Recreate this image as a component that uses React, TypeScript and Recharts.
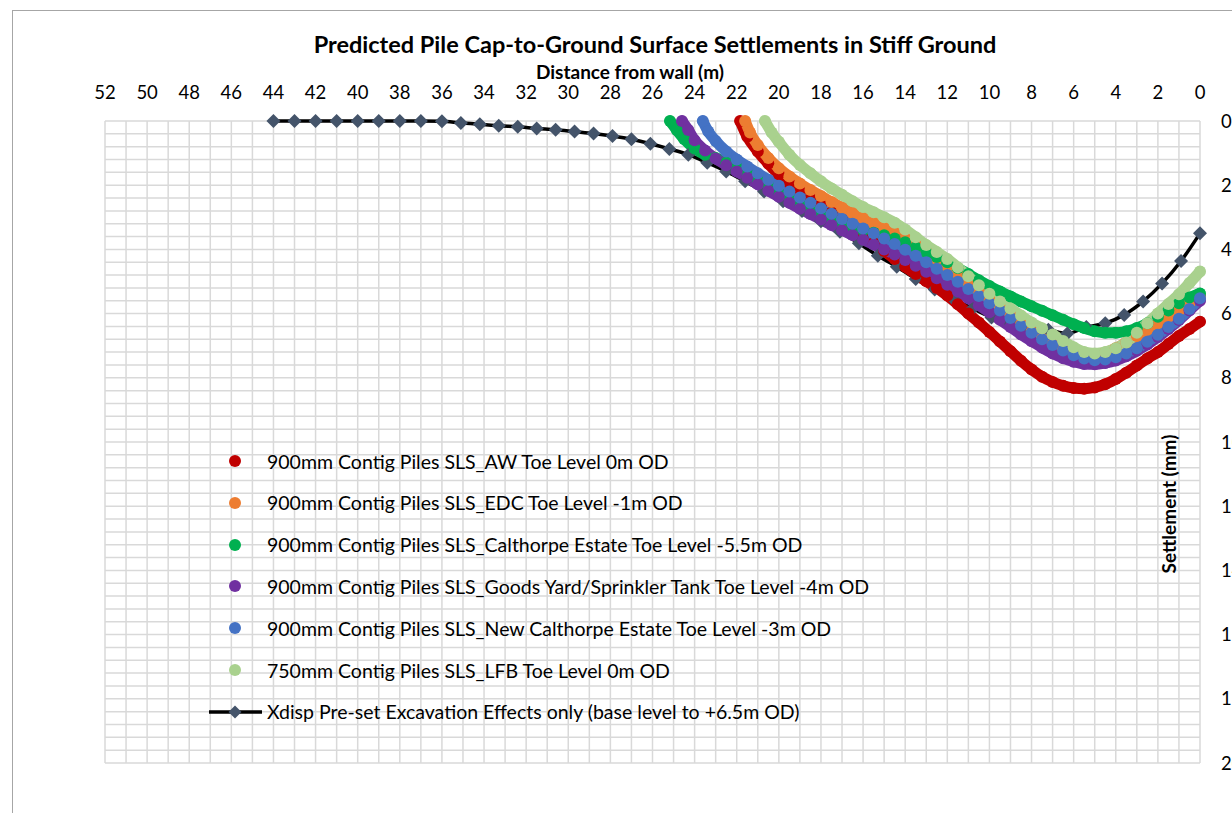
import { ComposedChart, Line, XAxis, YAxis, CartesianGrid } from "recharts";

const W = 1232;
const H = 813;
const FONT = "Lato, 'Open Sans', sans-serif";

// tick labels shown on the axes
const distanceLabels = [0, 2, 4, 6, 8, 10, 12, 14, 16, 18, 20, 22, 24, 26, 28, 30, 32, 34, 36, 38, 40, 42, 44, 46, 48, 50, 52];
const settlementLabels = [0, 2, 4, 6, 8, 10, 12, 14, 16, 18, 20];

// minor grid: every 1 m across, every 0.4 mm down
const gridX = Array.from({ length: 53 }, (_, i) => i);
const gridY = Array.from({ length: 51 }, (_, i) => Math.round(i * 4) / 10);

// [distance from wall (m), settlement (mm)]
const xdispPoints: [number, number][] = [
  [44, 0], [43, 0], [42, 0], [41, 0], [40, 0], [39, 0], [38, 0], [37, 0], [36, 0.01],
  [35.1, 0.06], [34.2, 0.1], [33.3, 0.15], [32.4, 0.18], [31.5, 0.23], [30.6, 0.27],
  [29.7, 0.33], [28.8, 0.39], [27.9, 0.47], [27, 0.57], [26.1, 0.71], [25.2, 0.87],
  [24.3, 1.05], [23.4, 1.3], [22.5, 1.57], [21.6, 1.88], [20.7, 2.2], [19.8, 2.5],
  [18.9, 2.8], [18, 3.12], [17.1, 3.45], [16.2, 3.81], [15.3, 4.2], [14.4, 4.54],
  [13.5, 4.92], [12.6, 5.25], [11.7, 5.55], [10.8, 5.84], [9.9, 6.12], [9, 6.3],
  [8.1, 6.43], [7.2, 6.5], [6.3, 6.62], [5.4, 6.42], [4.5, 6.3], [3.6, 6.04],
  [2.7, 5.62], [1.8, 5.06], [0.9, 4.36], [0, 3.5],
];

const awPoints: [number, number][] = [
  [21.84, 0], [21.5, 0.49], [21, 0.95], [20.5, 1.33], [20, 1.66], [19.5, 1.94], [19, 2.18],
  [18.5, 2.4], [18, 2.62], [17.5, 2.85], [17, 3.07], [16.5, 3.3], [16, 3.55], [15.5, 3.8],
  [15, 4.05], [14.5, 4.3], [14, 4.54], [13.5, 4.77], [13, 4.99], [12.5, 5.2], [12, 5.44],
  [11.5, 5.71], [11, 6.0], [10.5, 6.28], [10, 6.57], [9.5, 6.87], [9, 7.17], [8.5, 7.47],
  [8, 7.74], [7.5, 7.97], [7, 8.13], [6.5, 8.25], [6, 8.32], [5.5, 8.34], [5, 8.3],
  [4.5, 8.2], [4, 8.04], [3.5, 7.84], [3, 7.62], [2.5, 7.4], [2, 7.2], [1.5, 6.95],
  [1, 6.7], [0.5, 6.48], [0, 6.25],
];

const edcPoints: [number, number][] = [
  [21.6, 0], [21.37, 0.36], [21, 0.75], [20.5, 1.15], [20, 1.47], [19.5, 1.73], [19, 1.95],
  [18.5, 2.15], [18, 2.34], [17.5, 2.52], [17, 2.7], [16.5, 2.87], [16, 3.03], [15.5, 3.18],
  [15, 3.33], [14.5, 3.48], [14, 3.65], [13.5, 3.85], [13, 4.07], [12.5, 4.3], [12, 4.53],
  [11.5, 4.77], [11, 5.02], [10.5, 5.28], [10, 5.54], [9.5, 5.8], [9, 6.06], [8.5, 6.32],
  [8, 6.56], [7.5, 6.78], [7, 6.97], [6.5, 7.13], [6, 7.25], [5.5, 7.31], [5, 7.3],
  [4.5, 7.22], [4, 7.08], [3.5, 6.9], [3, 6.7], [2.5, 6.5], [2, 6.3], [1.5, 6.1],
  [1, 5.9], [0.5, 5.68], [0, 5.45],
];

const calthorpePoints: [number, number][] = [
  [25.17, 0], [24.85, 0.28], [24.5, 0.56], [24, 0.86], [23.5, 1.05], [23, 1.15], [22.5, 1.3],
  [22, 1.45], [21.5, 1.62], [21, 1.82], [20.5, 2.01], [20, 2.2], [19.5, 2.38], [19, 2.56],
  [18.5, 2.73], [18, 2.9], [17.5, 3.05], [17, 3.18], [16.5, 3.3], [16, 3.4], [15.5, 3.48],
  [15, 3.56], [14.5, 3.66], [14, 3.78], [13.5, 3.93], [13, 4.08], [12.5, 4.24], [12, 4.4],
  [11.5, 4.58], [11, 4.77], [10.5, 4.96], [10, 5.14], [9.5, 5.31], [9, 5.47], [8.5, 5.62],
  [8, 5.77], [7.5, 5.91], [7, 6.05], [6.5, 6.19], [6, 6.33], [5.5, 6.45], [5, 6.55],
  [4.5, 6.6], [4, 6.6], [3.5, 6.55], [3, 6.45], [2.5, 6.3], [2, 6.1], [1.5, 5.9],
  [1, 5.68], [0.5, 5.5], [0, 5.37],
];

const goodsYardPoints: [number, number][] = [
  [24.6, 0], [24.3, 0.28], [24, 0.6], [23.5, 0.92], [23, 1.17], [22.5, 1.38], [22, 1.57],
  [21.5, 1.77], [21, 1.97], [20.5, 2.17], [20, 2.36], [19.5, 2.55], [19, 2.73], [18.5, 2.9],
  [18, 3.07], [17.5, 3.24], [17, 3.4], [16.5, 3.55], [16, 3.7], [15.5, 3.85], [15, 4.0],
  [14.5, 4.16], [14, 4.33], [13.5, 4.51], [13, 4.7], [12.5, 4.9], [12, 5.1], [11.5, 5.31],
  [11, 5.52], [10.5, 5.74], [10, 5.96], [9.5, 6.19], [9, 6.42], [8.5, 6.65], [8, 6.86],
  [7.5, 7.06], [7, 7.24], [6.5, 7.39], [6, 7.5], [5.5, 7.57], [5, 7.58], [4.5, 7.54],
  [4, 7.46], [3.5, 7.33], [3, 7.16], [2.5, 6.96], [2, 6.73], [1.5, 6.48], [1, 6.2],
  [0.5, 5.9], [0, 5.6],
];

const newCalthorpePoints: [number, number][] = [
  [23.61, 0], [23.35, 0.33], [23, 0.62], [22.5, 0.95], [22, 1.2], [21.5, 1.42], [21, 1.63],
  [20.5, 1.83], [20, 2.02], [19.5, 2.2], [19, 2.38], [18.5, 2.55], [18, 2.72], [17.5, 2.89],
  [17, 3.05], [16.5, 3.2], [16, 3.35], [15.5, 3.5], [15, 3.66], [14.5, 3.83], [14, 4.01],
  [13.5, 4.2], [13, 4.4], [12.5, 4.6], [12, 4.8], [11.5, 5.01], [11, 5.23], [10.5, 5.45],
  [10, 5.68], [9.5, 5.9], [9, 6.14], [8.5, 6.38], [8, 6.6], [7.5, 6.8], [7, 6.98],
  [6.5, 7.15], [6, 7.3], [5.5, 7.4], [5, 7.45], [4.5, 7.43], [4, 7.36], [3.5, 7.24],
  [3, 7.08], [2.5, 6.88], [2, 6.66], [1.5, 6.42], [1, 6.16], [0.5, 5.86], [0, 5.52],
];

const lfbPoints: [number, number][] = [
  [20.66, 0], [20.34, 0.36], [20, 0.65], [19.5, 1.05], [19, 1.37], [18.5, 1.63], [18, 1.88],
  [17.5, 2.1], [17, 2.3], [16.5, 2.5], [16, 2.68], [15.5, 2.84], [15, 3.0], [14.5, 3.17],
  [14, 3.38], [13.5, 3.62], [13, 3.86], [12.5, 4.08], [12, 4.3], [11.5, 4.56], [11, 4.84],
  [10.5, 5.12], [10, 5.38], [9.5, 5.62], [9, 5.84], [8.5, 6.06], [8, 6.28], [7.5, 6.46],
  [7, 6.65], [6.5, 6.85], [6, 7.05], [5.5, 7.2], [5, 7.24], [4.5, 7.2], [4, 7.08],
  [3.5, 6.9], [3, 6.6], [2.5, 6.3], [2, 6.0], [1.5, 5.7], [1, 5.4], [0.5, 5.05], [0, 4.69],
];

const pileSeries = [
  { name: "900mm Contig Piles SLS_AW Toe Level 0m OD", color: "#C00000", points: awPoints },
  { name: "900mm Contig Piles SLS_EDC Toe Level -1m OD", color: "#ED7D31", points: edcPoints },
  { name: "900mm Contig Piles SLS_Calthorpe Estate Toe Level -5.5m OD", color: "#00B050", points: calthorpePoints },
  { name: "900mm Contig Piles SLS_Goods Yard/Sprinkler Tank Toe Level -4m OD", color: "#7030A0", points: goodsYardPoints },
  { name: "900mm Contig Piles SLS_New Calthorpe Estate Toe Level -3m OD", color: "#4472C4", points: newCalthorpePoints },
  { name: "750mm Contig Piles SLS_LFB Toe Level 0m OD", color: "#A9D18E", points: lfbPoints },
];
const xdispName = "Xdisp Pre-set Excavation Effects only (base level to +6.5m OD)";
const DIAMOND = "#44546A";

const toRows = (pts: [number, number][]) => pts.map(([x, y]) => ({ x, y }));

const Diamond = (props: any) => {
  const { cx, cy, index } = props;
  if (cx == null || cy == null) return <g key={index} />;
  const s = 7;
  return (
    <polygon
      key={index}
      points={`${cx},${cy - s} ${cx + s},${cy} ${cx},${cy + s} ${cx - s},${cy}`}
      fill={DIAMOND}
    />
  );
};

const isLabel = (v: number, labels: number[]) => labels.some((l) => Math.abs(l - v) < 1e-6);

function LegendBox() {
  const rowTop = 450;
  const rowStep = 41.8;
  return (
    <div style={{ position: "absolute", left: 200, top: rowTop, fontFamily: FONT, fontSize: 19.5, color: "#000" }}>
      {pileSeries.map((s, i) => (
        <div key={s.name} style={{ position: "absolute", top: i * rowStep, left: 0, height: 22, display: "flex", alignItems: "center", whiteSpace: "nowrap" }}>
          <span style={{ display: "inline-block", width: 12, height: 12, borderRadius: 6, background: s.color, marginLeft: 29, marginRight: 26 }} />
          <span>{s.name}</span>
        </div>
      ))}
      <div style={{ position: "absolute", top: 6 * rowStep, left: 0, height: 22, display: "flex", alignItems: "center", whiteSpace: "nowrap" }}>
        <svg width={67} height={22} style={{ display: "block" }}>
          <line x1={9} y1={11} x2={62} y2={11} stroke="#000" strokeWidth={3.5} />
          <polygon points="35,4.5 41.5,11 35,17.5 28.5,11" fill={DIAMOND} />
        </svg>
        <span>{xdispName}</span>
      </div>
    </div>
  );
}

export default function App() {
  return (
    <div style={{ position: "fixed", left: 0, top: 0, width: W, height: H, overflow: "hidden", background: "#fff" }}>
      <div style={{ position: "absolute", left: 12, top: 10, width: 1400, height: 1000, border: "1px solid #a6a6a6" }} />
      <div style={{ position: "absolute", left: 0, top: 0 }}>
        <ComposedChart width={W} height={H} margin={{ top: 91, right: 0, bottom: 50, left: 105 }}>
          <CartesianGrid stroke="#d9d9d9" strokeWidth={1.5} />
          <XAxis
            dataKey="x"
            type="number"
            orientation="top"
            reversed
            domain={[0, 52]}
            ticks={gridX}
            interval={0}
            height={30}
            tickLine={false}
            axisLine={false}
            tickSize={0}
            tickMargin={22}
            tickFormatter={(v: number) => (isLabel(v, distanceLabels) ? String(v) : "")}
            tick={{ fill: "#000", fontSize: 18.5, fontFamily: FONT }}
          />
          <YAxis
            type="number"
            orientation="right"
            reversed
            domain={[0, 20]}
            ticks={gridY}
            interval={0}
            width={32}
            tickLine={false}
            axisLine={false}
            tickSize={0}
            tickMargin={21}
            tickFormatter={(v: number) => (isLabel(v, settlementLabels) ? String(Math.round(v)) : "")}
            tick={{ fill: "#000", fontSize: 18.5, fontFamily: FONT }}
          />
          <Line
            data={toRows(xdispPoints)}
            dataKey="y"
            name={xdispName}
            type="monotone"
            stroke="#000"
            strokeWidth={3.5}
            dot={<Diamond />}
            activeDot={false}
            isAnimationActive={false}
          />
          {pileSeries.map((s) => (
            <Line
              key={s.name}
              data={toRows(s.points)}
              dataKey="y"
              name={s.name}
              type="monotone"
              stroke={s.color}
              strokeWidth={11}
              strokeLinecap="round"
              dot={{ r: 6, fill: s.color, stroke: "none" }}
              activeDot={false}
              isAnimationActive={false}
            />
          ))}
        </ComposedChart>
      </div>
      <div style={{ position: "absolute", left: 0, width: 1310, top: 29, textAlign: "center", fontFamily: FONT, fontWeight: 700, fontSize: 23.5, lineHeight: "30px" }}>
        Predicted Pile Cap-to-Ground Surface Settlements in Stiff Ground
      </div>
      <div style={{ position: "absolute", left: 0, width: 1260, top: 60, textAlign: "center", fontFamily: FONT, fontWeight: 700, fontSize: 19, lineHeight: "24px" }}>
        Distance from wall (m)
      </div>
      <div style={{ position: "absolute", left: 1168, top: 504, transform: "translate(-50%, -50%) rotate(-90deg)", fontFamily: FONT, fontWeight: 700, fontSize: 19, whiteSpace: "nowrap" }}>
        Settlement (mm)
      </div>
      <LegendBox />
    </div>
  );
}
